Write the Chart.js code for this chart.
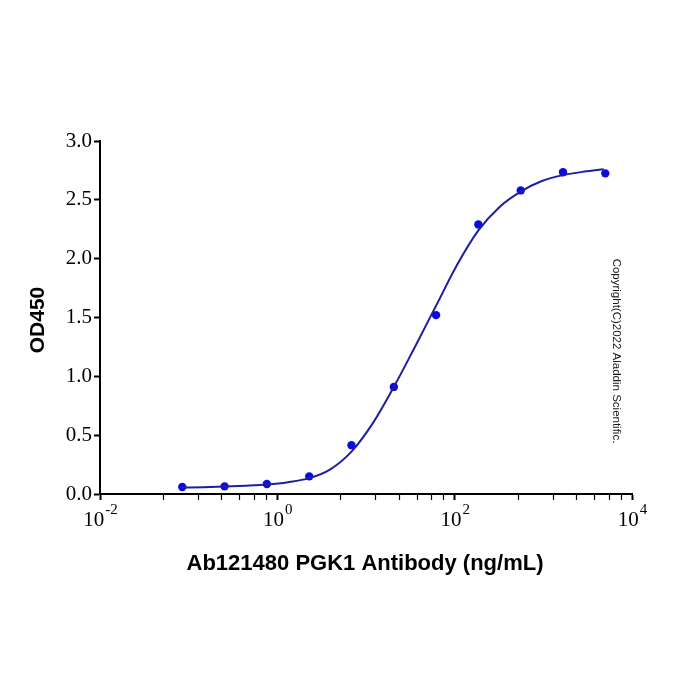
<!DOCTYPE html>
<html>
<head>
<meta charset="utf-8">
<script src="https://cdn.jsdelivr.net/npm/chart.js@4/dist/chart.umd.min.js"></script>
<style>
  html, body { margin: 0; padding: 0; background: #fff; }
  canvas { display: block; }
</style>
</head>
<body>
<canvas id="myChart" width="700" height="700"></canvas>
<script>
// measured points (ng/mL, OD450)
const doses = [0.0847, 0.254, 0.762, 2.29, 6.86, 20.6, 61.7, 185, 556, 1667, 5000];
const od450 = [0.06, 0.065, 0.085, 0.15, 0.415, 0.91, 1.52, 2.29, 2.58, 2.735, 2.725];

// fitted curve
const curveDoses = [0.0847, 0.147, 0.254, 0.44, 0.762, 1.32, 2.29, 3.96, 6.86, 11.9, 20.6,
                    35.6, 61.7, 107, 185, 321, 556, 962, 1667, 2887, 4800];
const curveOD = [0.055, 0.058, 0.063, 0.07, 0.08, 0.10, 0.135, 0.21, 0.36, 0.60, 0.91,
                 1.25, 1.60, 1.95, 2.24, 2.44, 2.57, 2.66, 2.71, 2.74, 2.76];

// axis ticks
const xMajorTicks = [0.01, 1, 100, 10000];
const xMajorExps = ['-2', '0', '2', '4'];
const xMinorTicks = [0.052, 0.129, 0.236, 0.377, 0.555, 0.752,
                     5.2, 12.9, 23.6, 37.7, 55.5, 75.2,
                     520, 1290, 2360, 3770, 5550, 7520];
const yTicks = [0, 0.5, 1.0, 1.5, 2.0, 2.5, 3.0];

const xTitle = 'Ab121480 PGK1 Antibody (ng/mL)';
const yTitle = 'OD450';
const copyright = 'Copyright(C)2022 Aladdin Scientific.';

const serif = '"Liberation Serif", "Times New Roman", serif';
const sans = '"Liberation Sans", Arial, sans-serif';

// draws the 10^n labels, axis titles and the side note
const textPlugin = {
    id: 'texts',
    afterDraw(chart) {
        const ctx = chart.ctx;
        const xs = chart.scales.x;
        ctx.save();
        ctx.fillStyle = '#000';
        ctx.textBaseline = 'alphabetic';
        for (let i = 0; i < xMajorTicks.length; i++) {
            const px = xs.getPixelForValue(xMajorTicks[i]);
            ctx.font = '21px ' + serif;
            const wBase = ctx.measureText('10').width;
            ctx.font = '15px ' + serif;
            const wExp = ctx.measureText(xMajorExps[i]).width;
            const start = px - (wBase + wExp) / 2;
            ctx.font = '21px ' + serif;
            ctx.textAlign = 'left';
            ctx.fillText('10', start, 526);
            ctx.font = '15px ' + serif;
            ctx.fillText(xMajorExps[i], start + wBase + 1, 514);
        }

        ctx.textAlign = 'center';
        ctx.textBaseline = 'middle';
        ctx.font = 'bold 22px ' + sans;
        ctx.fillText(xTitle, 365, 564);

        ctx.save();
        ctx.translate(38, 320);
        ctx.rotate(-Math.PI / 2);
        ctx.font = 'bold 21px ' + sans;
        ctx.fillText(yTitle, 0, 0);
        ctx.restore();

        ctx.save();
        ctx.translate(616, 351);
        ctx.rotate(Math.PI / 2);
        ctx.font = '11.5px ' + sans;
        ctx.fillStyle = '#1a1a1a';
        ctx.fillText(copyright, 0, 0);
        ctx.restore();

        ctx.restore();
    }
};

const curvePoints = curveDoses.map((d, i) => ({x: d, y: curveOD[i]}));
const dataPoints = doses.map((d, i) => ({x: d, y: od450[i]}));

const config = {
    type: 'scatter',
    data: {
        datasets: [
            {
                label: 'fit',
                data: curvePoints,
                showLine: true,
                borderColor: '#1e1ea0',
                borderWidth: 2,
                pointRadius: 0,
                cubicInterpolationMode: 'monotone'
            },
            {
                label: 'OD450',
                data: dataPoints,
                showLine: false,
                backgroundColor: '#0b0be0',
                borderWidth: 0,
                pointRadius: 4.2
            }
        ]
    },
    options: {
        responsive: false,
        animation: false,
        devicePixelRatio: 1,
        layout: {
            padding: {left: 0, top: 141, right: 68, bottom: 0}
        },
        plugins: {
            legend: {display: false},
            tooltip: {enabled: false}
        },
        scales: {
            x: {
                type: 'logarithmic',
                min: 0.01,
                max: 10000,
                afterBuildTicks: (scale) => {
                    const all = xMajorTicks.map(v => ({value: v, major: true}))
                        .concat(xMinorTicks.map(v => ({value: v, major: false})));
                    all.sort((a, b) => a.value - b.value);
                    scale.ticks = all;
                },
                afterFit: (scale) => { scale.height = 206; },
                ticks: {display: false},
                grid: {
                    drawOnChartArea: false,
                    drawTicks: true,
                    tickLength: 6,
                    tickColor: '#000',
                    tickWidth: (c) => c.tick && c.tick.major ? 2 : 1.2
                },
                border: {display: true, color: '#000', width: 2}
            },
            y: {
                type: 'linear',
                min: 0,
                max: 3,
                afterBuildTicks: (scale) => {
                    scale.ticks = yTicks.map(v => ({value: v}));
                },
                afterFit: (scale) => { scale.width = 100; },
                ticks: {
                    color: '#000',
                    padding: 2,
                    font: {family: serif, size: 21},
                    callback: (v) => Number(v).toFixed(1)
                },
                grid: {
                    drawOnChartArea: false,
                    drawTicks: true,
                    tickLength: 6,
                    tickColor: '#000',
                    tickWidth: 2
                },
                border: {display: true, color: '#000', width: 2}
            }
        }
    },
    plugins: [textPlugin]
};

const ctx = document.getElementById('myChart').getContext('2d');
new Chart(ctx, config);
</script>
</body>
</html>
